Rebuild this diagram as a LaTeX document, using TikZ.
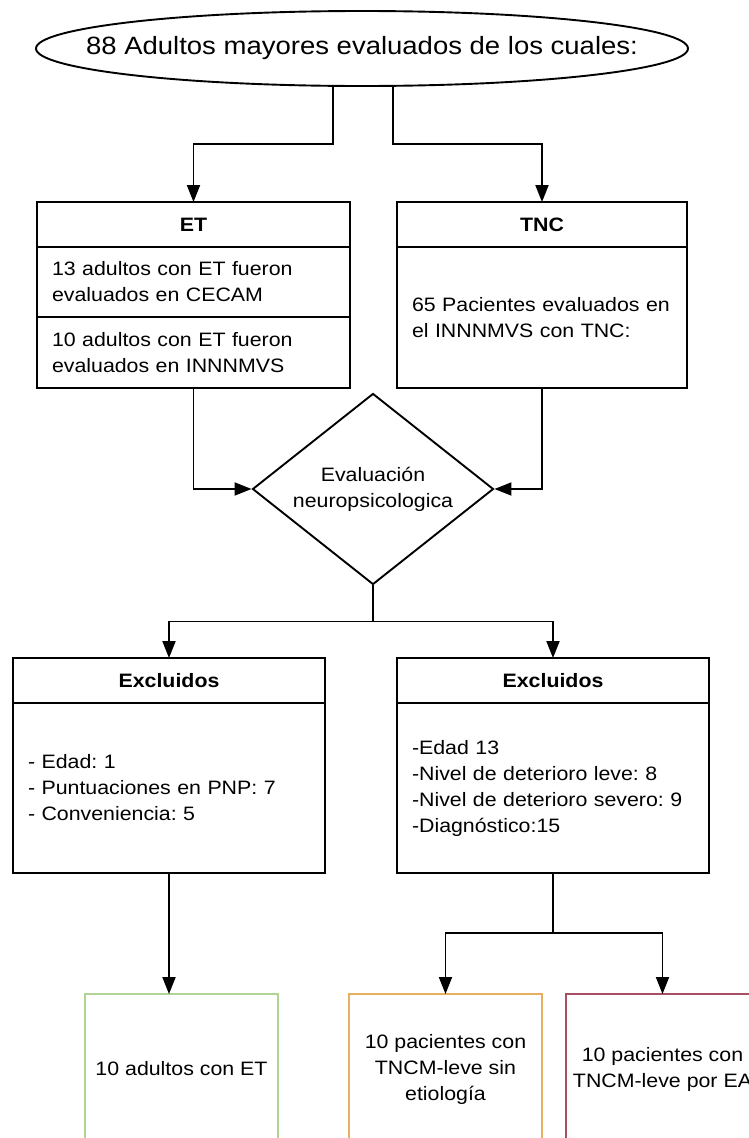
\documentclass[tikz,border=0pt]{standalone}
\usepackage{fontspec}
\setmainfont{Liberation Sans}[FakeStretch=1.1]
\usepackage{tikz}
\usetikzlibrary{positioning,arrows.meta,shapes.geometric}
\usepackage{xcolor}
\definecolor{etc}{RGB}{176,212,148}
\definecolor{sinc}{RGB}{230,176,96}
\definecolor{eac}{RGB}{170,80,100}
\frenchspacing
\tikzset{
  headbox/.style={rectangle,draw=black,line width=1.9pt,outer sep=0pt,minimum height=45pt,inner sep=0pt,font=\fontsize{19.4}{26}\selectfont\bfseries},
  bodybox/.style={rectangle,draw=black,line width=1.9pt,outer sep=0pt,inner xsep=15pt,inner ysep=0pt,align=left,font=\fontsize{19.4}{26}\selectfont},
  endbox/.style={rectangle,line width=1.5pt,outer sep=0pt,minimum width=193pt,minimum height=150pt,inner sep=0pt,align=center,font=\fontsize{19.4}{26}\selectfont},
  flow/.style={-{Triangle[length=17pt,width=13pt]},line width=1.9pt,black},
}

\begin{document}
\begin{tikzpicture}[x=1pt,y=-1pt]
  \useasboundingbox (0,0) rectangle (749,1138);
  \clip (0,0) rectangle (749,1138);
  % start
  \node[minimum width=652pt,minimum height=75pt,inner sep=0pt,font=\fontsize{25}{30}\selectfont] (start) at (362,48.5) {88 Adultos mayores evaluados de los cuales:};
  \draw[line width=1.9pt] (start.center) ellipse [x radius=326pt,y radius=37.5pt];
  % ET and TNC groups
  \node[headbox,minimum width=313pt,anchor=north west] (etHead) at (37,202) {ET};
  \node[bodybox,text width=283pt,minimum height=70pt,below=0pt of etHead] (etA) {13 adultos con ET fueron\\evaluados en CECAM};
  \node[bodybox,text width=283pt,minimum height=71pt,below=0pt of etA] (etB) {10 adultos con ET fueron\\evaluados en INNNMVS};
  \node[headbox,minimum width=290pt,anchor=north west] (tncHead) at (397,202) {TNC};
  \node[bodybox,text width=260pt,minimum height=141pt,below=0pt of tncHead] (tncBody) {65 Pacientes evaluados en\\el INNNMVS con TNC:};
  % evaluation
  \node[diamond,draw,line width=1.9pt,aspect=1.26,minimum width=241pt,minimum height=191pt,inner sep=0pt,align=center,font=\fontsize{19.4}{26}\selectfont] (eval) at (373,489) {Evaluación\\neuropsicologica};
  % excluded
  \node[headbox,minimum width=312pt,anchor=north west] (exLHead) at (13,658) {Excluidos};
  \node[bodybox,text width=282pt,minimum height=170pt,below=0pt of exLHead] (exLBody) {- Edad: 1\\- Puntuaciones en PNP: 7\\- Conveniencia: 5};
  \node[headbox,minimum width=312pt,anchor=north west] (exRHead) at (397,658) {Excluidos};
  \node[bodybox,text width=282pt,minimum height=170pt,below=0pt of exRHead] (exRBody) {-Edad 13\\-Nivel de deterioro leve: 8\\-Nivel de deterioro severo: 9\\-Diagnóstico:15};
  % final groups
  \node[endbox,draw=etc,anchor=north west] (etEnd) at (85,994) {10 adultos con ET};
  \node[endbox,draw=sinc,anchor=north west] (sinEnd) at (349,994) {10 pacientes con\\TNCM-leve sin\\etiología};
  \node[endbox,draw=eac,anchor=north west] (eaEnd) at (566,994) {10 pacientes con\\TNCM-leve por EA};
  % connectors
  \draw[flow] ([xshift=-29pt]start.south) -- ++(0,58) -| (etHead.north);
  \draw[flow] ([xshift=31pt]start.south) -- ++(0,58) -| (tncHead.north);
  \draw[flow] (etB.south) |- (eval.west);
  \draw[flow] (tncBody.south) |- (eval.east);
  \draw[flow] (eval.south) -- ++(0,36) -| (exLHead.north);
  \draw[flow] (eval.south) -- ++(0,36) -| (exRHead.north);
  \draw[flow] (exLBody.south) -- (exLBody.south |- etEnd.north);
  \draw[flow] (exRBody.south) -- ++(0,60) -| (sinEnd.north);
  \draw[flow] (exRBody.south) -- ++(0,60) -| (eaEnd.north);
\end{tikzpicture}
\end{document}
